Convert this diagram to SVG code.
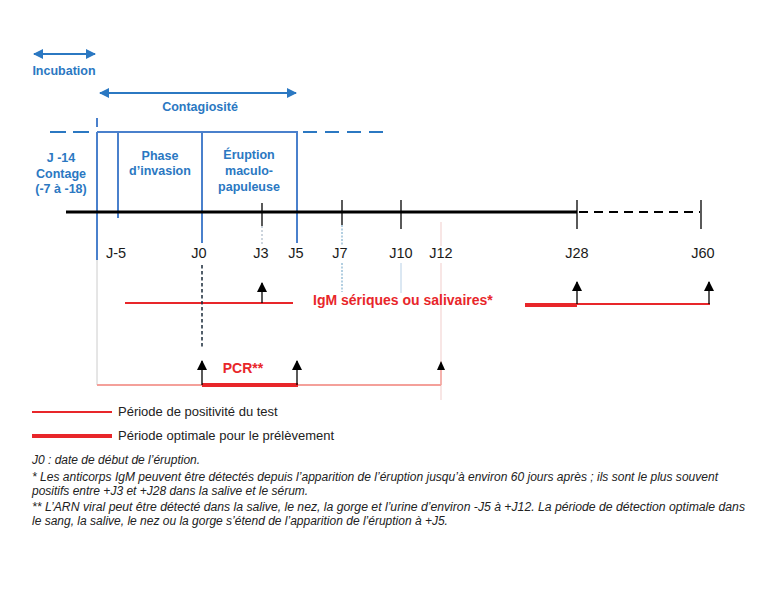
<svg xmlns="http://www.w3.org/2000/svg" width="765" height="595" viewBox="0 0 765 595">
<defs>
<marker id="bh" viewBox="0 0 10 10" refX="9" refY="5" markerWidth="10" markerHeight="10" markerUnits="userSpaceOnUse" orient="auto-start-reverse"><path d="M0,0 L10,5 L0,10 z" fill="#2b78c2"/></marker>
<marker id="kh" viewBox="0 0 10 10" refX="9" refY="5" markerWidth="10" markerHeight="10" markerUnits="userSpaceOnUse" orient="auto"><path d="M0,0 L10,5 L0,10 z" fill="#000"/></marker>
<style>
.bl{font-family:"Liberation Sans",Arial,sans-serif;font-weight:bold;font-size:12.5px;fill:#2b78c2;text-anchor:middle}
.lb{font-family:"Liberation Sans",Arial,sans-serif;font-size:14.5px;fill:#1a1a1a;text-anchor:middle}
.rd{font-family:"Liberation Sans",Arial,sans-serif;font-weight:bold;font-size:14px;fill:#e8262a}
.lg{font-family:"Liberation Sans",Arial,sans-serif;font-size:13px;fill:#222}
.fn{font-family:"Liberation Sans",Arial,sans-serif;font-style:italic;font-size:12px;fill:#222}
.bv{stroke:#4a80cc;stroke-width:2;fill:none}
.ax{stroke:#000;fill:none}
.up{stroke:#000;stroke-width:1.3;marker-end:url(#kh)}
</style>
</defs>
<rect width="765" height="595" fill="#fff"/>
<g id="incubation">
<line x1="34" y1="54" x2="95" y2="54" stroke="#2b78c2" stroke-width="2" marker-start="url(#bh)" marker-end="url(#bh)"/>
<text class="bl" x="64" y="75">Incubation</text>
</g>
<g id="contagiosite">
<line x1="100" y1="93" x2="296" y2="93" stroke="#2b78c2" stroke-width="2" marker-start="url(#bh)" marker-end="url(#bh)"/>
<text class="bl" x="200" y="111">Contagiosité</text>
</g>
<g id="frame">
<line x1="50" y1="132" x2="95" y2="132" stroke="#2b78c2" stroke-width="2" stroke-dasharray="16,7"/>
<line x1="97" y1="132" x2="298" y2="132" stroke="#4a80cc" stroke-width="2"/>
<line x1="300" y1="132" x2="384" y2="132" stroke="#2b78c2" stroke-width="2" stroke-dasharray="14,8" stroke-dashoffset="-3"/>
<line class="bv" x1="97" y1="118" x2="97" y2="127"/>
<line class="bv" x1="97" y1="132" x2="97" y2="260"/>
<line class="bv" x1="118" y1="132" x2="118" y2="218"/>
<line class="bv" x1="202" y1="132" x2="202" y2="243"/>
<line class="bv" x1="297" y1="132" x2="297" y2="243"/>
</g>
<g id="phases">
<text class="bl"><tspan x="61" y="162">J -14</tspan><tspan x="61" y="178">Contage</tspan><tspan x="61" y="193">(-7 à -18)</tspan></text>
<text class="bl"><tspan x="160" y="160">Phase</tspan><tspan x="160" y="175">d’invasion</tspan></text>
<text class="bl"><tspan x="249" y="159">Éruption</tspan><tspan x="249" y="175">maculo-</tspan><tspan x="249" y="191">papuleuse</tspan></text>
</g>
<g id="axis">
<line class="ax" x1="66" y1="212" x2="577" y2="212" stroke-width="3"/>
<line class="ax" x1="579" y1="212" x2="700" y2="212" stroke-width="2" stroke-dasharray="9,6"/>
<line class="ax" x1="262" y1="203" x2="262" y2="226" stroke-width="1.3"/>
<line class="ax" x1="342" y1="200" x2="342" y2="225" stroke-width="1.3"/>
<line class="ax" x1="401" y1="200" x2="401" y2="229" stroke-width="1.3"/>
<line class="ax" x1="577" y1="200" x2="577" y2="229" stroke-width="1.3" stroke="#2a3a40"/>
<line class="ax" x1="701" y1="200" x2="701" y2="229" stroke-width="1.3" stroke="#2a3a40"/>
<line x1="262" y1="226" x2="262" y2="246" stroke="#9ab" stroke-width="1" stroke-dasharray="2,2"/>
<line x1="342" y1="225" x2="342" y2="246" stroke="#9bc0d8" stroke-width="1.5" stroke-dasharray="2,1.5"/>
<line x1="342" y1="263" x2="342" y2="292" stroke="#9bc0d8" stroke-width="1.5" stroke-dasharray="2,1.5"/>
<line x1="401" y1="263" x2="401" y2="293" stroke="#b7d0e6" stroke-width="1"/>
<line x1="441" y1="222" x2="441" y2="246" stroke="#f3d6d4" stroke-width="1.2"/>
<line x1="441" y1="263" x2="441" y2="400" stroke="#f3d6d4" stroke-width="1.2"/>
</g>
<g id="labels">
<text class="lb" x="116" y="258">J-5</text>
<text class="lb" x="199" y="258">J0</text>
<text class="lb" x="261" y="258">J3</text>
<text class="lb" x="296" y="258">J5</text>
<text class="lb" x="340" y="258">J7</text>
<text class="lb" x="401" y="258">J10</text>
<text class="lb" x="441" y="258">J12</text>
<text class="lb" x="577" y="258">J28</text>
<text class="lb" x="703" y="258">J60</text>
</g>
<g id="igm">
<line x1="125" y1="303" x2="293" y2="303" stroke="#e8262a" stroke-width="2"/>
<line class="up" x1="262" y1="303" x2="262" y2="283"/>
<text class="rd" x="313" y="305">IgM sériques ou salivaires*</text>
<line x1="525" y1="305" x2="577" y2="305" stroke="#e8262a" stroke-width="4"/>
<line x1="577" y1="304" x2="710" y2="304" stroke="#e8262a" stroke-width="1.8"/>
<line class="up" x1="577" y1="304" x2="577" y2="282" stroke="#2a3a40"/>
<line class="up" x1="709" y1="304" x2="709" y2="282" stroke="#2a3a40"/>
</g>
<g id="pcr">
<line x1="202" y1="265" x2="202" y2="348" stroke="#1a2a3a" stroke-width="1.5" stroke-dasharray="3.5,2.5"/>
<line x1="97" y1="260" x2="97" y2="385" stroke="#ccc" stroke-width="1"/>
<line x1="97" y1="385" x2="441" y2="385" stroke="#f4a09a" stroke-width="1.8"/>
<line x1="441" y1="362" x2="441" y2="385" stroke="#f4a09a" stroke-width="1.5"/>
<line x1="202" y1="385" x2="298" y2="385" stroke="#e8262a" stroke-width="4"/>
<line class="up" x1="202" y1="385" x2="202" y2="361"/>
<line class="up" x1="297" y1="385" x2="297" y2="361"/>
<path d="M437,370 L441,361 L445,370 z" fill="#000"/>
<text class="rd" x="243" y="373" text-anchor="middle">PCR**</text>
</g>
<g id="legend">
<line x1="32" y1="412" x2="112" y2="412" stroke="#e8262a" stroke-width="2"/>
<text class="lg" x="118" y="416">Période de positivité du test</text>
<line x1="32" y1="436" x2="112" y2="436" stroke="#e8262a" stroke-width="4"/>
<text class="lg" x="118" y="440">Période optimale pour le prélèvement</text>
</g>
<g id="notes">
<text class="fn" x="32" y="464">J0 : date de début de l’éruption.</text>
<text class="fn" x="32" y="481" textLength="686" lengthAdjust="spacingAndGlyphs">* Les anticorps IgM peuvent être détectés depuis l’apparition de l’éruption jusqu’à environ 60 jours après ; ils sont le plus souvent</text>
<text class="fn" x="32" y="495">positifs entre +J3 et +J28 dans la salive et le sérum.</text>
<text class="fn" x="32" y="511" textLength="713" lengthAdjust="spacingAndGlyphs">** L’ARN viral peut être détecté dans la salive, le nez, la gorge et l’urine d’environ -J5 à +J12. La période de détection optimale dans</text>
<text class="fn" x="32" y="525">le sang, la salive, le nez ou la gorge s’étend de l’apparition de l’éruption à +J5.</text>
</g>
</svg>
